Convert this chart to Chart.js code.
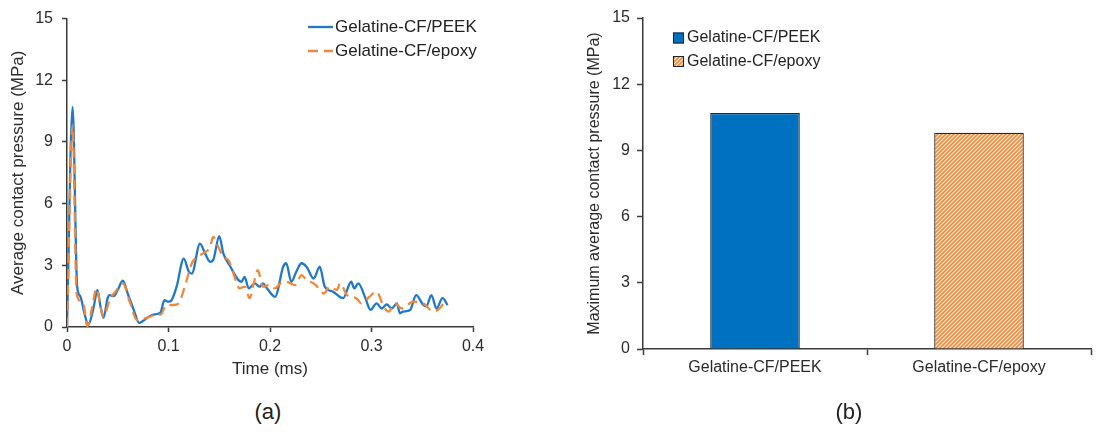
<!DOCTYPE html>
<html>
<head>
<meta charset="utf-8">
<script src="https://cdn.jsdelivr.net/npm/chart.js@4"></script>
<style>
  html, body { margin: 0; padding: 0; background: #fff; }
  body { width: 1108px; height: 435px; position: relative; overflow: hidden; font-family: "Liberation Sans", Arial, sans-serif; }
  #ipressure { position: absolute; left: 0; top: 0; }
  #imax_pressure { position: absolute; left: 560px; top: 0; }
  .caption { position: absolute; top: 399px; width: 60px; text-align: center; font-size: 22px; color: #222; }
</style>
</head>
<body>
<canvas id="ipressure" width="500" height="385"></canvas>
<canvas id="imax_pressure" width="548" height="400"></canvas>
<div class="caption" style="left:238px">(a)</div>
<div class="caption" style="left:819px">(b)</div>
<script>
// (a) average contact pressure vs time
const timePeek = [0, 0.0055, 0.010, 0.013, 0.017, 0.021, 0.026, 0.030, 0.033, 0.036, 0.040, 0.042, 0.046, 0.050, 0.055, 0.060, 0.066, 0.071, 0.075, 0.079, 0.085, 0.092, 0.096, 0.100, 0.103, 0.108, 0.115, 0.120, 0.123, 0.131, 0.136, 0.141, 0.144, 0.150, 0.154, 0.161, 0.169, 0.172, 0.175, 0.179, 0.185, 0.190, 0.193, 0.197, 0.205, 0.213, 0.216, 0.221, 0.226, 0.231, 0.236, 0.243, 0.249, 0.254, 0.262, 0.272, 0.280, 0.283, 0.287, 0.294, 0.299, 0.305, 0.310, 0.315, 0.320, 0.325, 0.328, 0.331, 0.338, 0.344, 0.351, 0.354, 0.359, 0.364, 0.370, 0.375];
const pressurePeek = [0, 10.7, 1.96, 1.5, 0.7, 0.1, 0.9, 1.8, 1.0, 0.45, 1.4, 1.55, 1.5, 1.8, 2.25, 1.6, 0.8, 0.2, 0.3, 0.45, 0.6, 0.7, 1.3, 1.23, 1.3, 1.96, 3.33, 2.7, 2.6, 4.06, 3.58, 3.17, 3.25, 4.42, 3.58, 2.93, 2.28, 2.2, 2.44, 1.88, 2.12, 1.96, 2.12, 1.88, 1.47, 2.93, 3.1, 2.2, 2.7, 3.1, 2.93, 2.36, 2.93, 1.96, 1.72, 1.4, 2.2, 1.88, 2.12, 1.4, 0.83, 1.15, 0.9, 1.1, 0.9, 1.15, 0.66, 0.75, 0.83, 1.55, 1.07, 1.0, 1.55, 0.9, 1.4, 1.07];
const timeEpoxy = [0, 0.0055, 0.0095, 0.016, 0.020, 0.025, 0.029, 0.033, 0.036, 0.042, 0.049, 0.055, 0.062, 0.069, 0.075, 0.082, 0.088, 0.092, 0.098, 0.105, 0.110, 0.116, 0.123, 0.128, 0.134, 0.141, 0.144, 0.149, 0.154, 0.159, 0.164, 0.170, 0.175, 0.180, 0.184, 0.188, 0.193, 0.200, 0.205, 0.210, 0.216, 0.225, 0.231, 0.236, 0.243, 0.248, 0.253, 0.259, 0.266, 0.269, 0.276, 0.285, 0.290, 0.298, 0.305, 0.312, 0.317, 0.323, 0.330, 0.341, 0.351, 0.361, 0.367, 0.373];
const pressureEpoxy = [0, 9.8, 1.6, 1.15, 0.05, 1.0, 1.88, 1.0, 0.5, 1.3, 1.8, 2.12, 1.2, 0.34, 0.4, 0.5, 0.63, 0.6, 1.07, 1.07, 1.15, 1.96, 3.1, 3.4, 3.58, 3.9, 4.38, 3.9, 3.4, 3.25, 2.6, 1.88, 1.96, 1.4, 2.12, 2.77, 1.96, 2.04, 1.88, 2.12, 2.2, 2.04, 2.52, 2.28, 2.12, 1.88, 1.63, 1.96, 1.8, 2.12, 1.55, 1.4, 1.15, 1.47, 1.72, 0.99, 0.75, 1.15, 0.9, 1.23, 1.15, 0.75, 0.9, 1.3];

// (b) maximum average contact pressure
const materials = ["Gelatine-CF/PEEK", "Gelatine-CF/epoxy"];
const maxPressure = [10.7, 9.8];

const BLUE_LINE = "#1F78C8";
const ORANGE_LINE = "#F0883C";
const BLUE_BAR = "#0070C0";
const AXIS = "#3a3a3a";
const TEXT = "#2b2b2b";
const FONT = "'Liberation Sans', Arial, sans-serif";

Chart.defaults.font.family = FONT;
Chart.defaults.color = TEXT;

function toPoints(xs, ys) {
    return xs.map((x, i) => ({ x: x, y: ys[i] }));
}

function hatch(color) {
    const c = document.createElement("canvas");
    c.width = 4; c.height = 4;
    const g = c.getContext("2d");
    g.fillStyle = "#fff";
    g.fillRect(0, 0, 4, 4);
    g.strokeStyle = color;
    g.lineWidth = 1.8;
    g.beginPath();
    g.moveTo(-1, 5); g.lineTo(5, -1);
    g.moveTo(-1, 1); g.lineTo(1, -1);
    g.moveTo(3, 5); g.lineTo(5, 3);
    g.stroke();
    return g.createPattern(c, "repeat");
}

// legend drawn inside the plot, stacked like the Excel one
const insideLegend = {
    id: "insideLegend",
    afterDraw(chart, args, opts) {
        const ctx = chart.ctx;
        ctx.save();
        ctx.font = opts.font;
        ctx.textBaseline = "middle";
        opts.items(chart).forEach((item, i) => {
            const y = opts.y + i * opts.row;
            if (opts.kind === "line") {
                ctx.strokeStyle = item.color;
                ctx.lineWidth = 2.3;
                ctx.setLineDash(item.dash || []);
                ctx.beginPath();
                ctx.moveTo(opts.x, y);
                ctx.lineTo(opts.x + opts.sample, y);
                ctx.stroke();
                ctx.setLineDash([]);
            } else {
                ctx.fillStyle = item.color;
                ctx.fillRect(opts.x, y - opts.sample / 2, opts.sample, opts.sample);
                ctx.strokeStyle = "#222";
                ctx.lineWidth = 1;
                ctx.strokeRect(opts.x + 0.5, y - opts.sample / 2 + 0.5, opts.sample - 1, opts.sample - 1);
            }
            ctx.fillStyle = "#222";
            ctx.fillText(item.text, opts.x + opts.sample + opts.gap, y);
        });
        ctx.restore();
    }
};

function axisStyle(tickLen) {
    return {
        border: { display: true, color: AXIS, width: 1.5 },
        grid: { drawOnChartArea: false, drawTicks: true, tickLength: tickLen, tickColor: AXIS, tickWidth: 1.5 }
    };
}

new Chart("ipressure", {
    type: "line",
    plugins: [insideLegend],
    data: {
        datasets: [
            {
                label: "Gelatine-CF/PEEK",
                data: toPoints(timePeek, pressurePeek),
                borderColor: BLUE_LINE,
                borderWidth: 2.3,
                pointRadius: 0,
                cubicInterpolationMode: "monotone",
                order: 1
            },
            {
                label: "Gelatine-CF/epoxy",
                data: toPoints(timeEpoxy, pressureEpoxy),
                borderColor: ORANGE_LINE,
                borderWidth: 2.3,
                borderDash: [10, 6],
                pointRadius: 0,
                cubicInterpolationMode: "monotone",
                order: 0
            }
        ]
    },
    options: {
        responsive: false,
        animation: false,
        devicePixelRatio: 1,
        layout: { padding: { top: 18, right: 27, left: 0, bottom: 0 } },
        plugins: {
            legend: { display: false },
            tooltip: { enabled: false },
            insideLegend: {
                kind: "line",
                x: 308, y: 27, row: 24, sample: 25, gap: 2,
                font: "17px " + FONT,
                items: chart => chart.data.datasets.map(ds => ({ text: ds.label, color: ds.borderColor, dash: ds.borderDash }))
            }
        },
        scales: {
            x: {
                type: "linear",
                min: 0, max: 0.4,
                ...axisStyle(5),
                ticks: { stepSize: 0.1, padding: 5, font: { size: 16 }, color: TEXT, callback: v => +v.toFixed(1) },
                title: { display: true, text: "Time (ms)", font: { size: 17 }, color: TEXT, padding: { top: 0, bottom: 5 } },
                afterFit: s => { s.height = 58; }
            },
            y: {
                min: 0, max: 15,
                ...axisStyle(5),
                ticks: { stepSize: 3, padding: 9, font: { size: 16 }, color: TEXT },
                title: { display: true, text: "Average contact pressure (MPa)", font: { size: 17 }, color: TEXT, padding: { top: 8, bottom: 0 } },
                afterFit: s => { s.width = 67; }
            }
        }
    }
});

new Chart("imax_pressure", {
    type: "bar",
    plugins: [insideLegend],
    data: {
        labels: materials,
        datasets: [
            {
                data: maxPressure,
                backgroundColor: [BLUE_BAR, hatch(ORANGE_LINE)],
                borderColor: "#262626",
                borderWidth: 1.3,
                barPercentage: 0.4,
                categoryPercentage: 1.0
            }
        ]
    },
    options: {
        responsive: false,
        animation: false,
        devicePixelRatio: 1,
        layout: { padding: { top: 18, right: 17, left: 0, bottom: 0 } },
        plugins: {
            legend: { display: false },
            tooltip: { enabled: false },
            insideLegend: {
                kind: "box",
                x: 113, y: 38, row: 23.5, sample: 11, gap: 3,
                font: "16px " + FONT,
                items: chart => chart.data.labels.map((l, i) => ({ text: l, color: chart.data.datasets[0].backgroundColor[i] }))
            }
        },
        scales: {
            x: {
                ...axisStyle(6),
                grid: { offset: true, drawOnChartArea: false, drawTicks: true, tickLength: 6, tickColor: AXIS, tickWidth: 1.5 },
                ticks: { padding: 3, font: { size: 16 }, color: TEXT },
                afterFit: s => { s.height = 51; }
            },
            y: {
                min: 0, max: 15,
                ...axisStyle(6),
                ticks: { stepSize: 3, padding: 7, font: { size: 16 }, color: TEXT },
                title: { display: true, text: "Maximum average contact pressure (MPa)", font: { size: 16 }, color: TEXT, padding: { top: 25, bottom: 0 } },
                afterFit: s => { s.width = 83; }
            }
        }
    }
});
</script>
</body>
</html>
